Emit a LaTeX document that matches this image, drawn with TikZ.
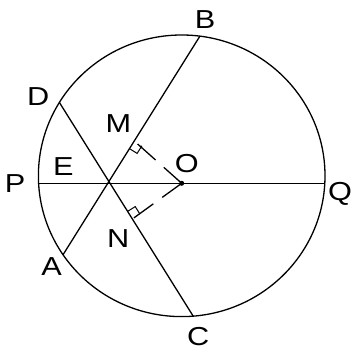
\documentclass[tikz,border=0pt]{standalone}
\usepackage{fontspec}
\setmainfont{Liberation Sans}[FakeStretch=1.18]
\usetikzlibrary{calc}
\begin{document}
\begin{tikzpicture}[x=1pt,y=-1pt,
  geo/.style={line width=1.3pt, black},
  marksq/.style={line width=1pt, black},
  hid/.style={line width=1.3pt, black, dash pattern=on 24pt off 11pt},
  lbl/.style={font=\fontsize{26}{26}\selectfont, inner sep=0pt, text depth=0pt}]
\useasboundingbox (0,0) rectangle (353,352);
\coordinate (Z) at (181.7,175.8);
\draw[geo] (Z) ellipse [x radius=143.3pt, y radius=140.8pt];
\coordinate (B) at ($(Z)+({143.3*cos(82.7)},{-140.8*sin(82.7)})$);
\coordinate (D) at ($(Z)+({143.3*cos(148.6)},{-140.8*sin(148.6)})$);
\coordinate (A) at ($(Z)+({143.3*cos(214.1)},{-140.8*sin(214.1)})$);
\coordinate (C) at ($(Z)+({143.3*cos(274.6)},{-140.8*sin(274.6)})$);
\coordinate (P) at (38.5,183.3);
\coordinate (Q) at (325,183.3);
\coordinate (O) at (181.7,183.3);
\coordinate (E) at (intersection of A--B and C--D);
\coordinate (M) at (intersection of A--B and 0,141--353,141);
\coordinate (N) at (intersection of C--D and 0,219--353,219);
\draw[geo] (P) -- (Q);
\draw[geo] (A) -- (B);
\draw[geo] (D) -- (C);
\draw[hid] (O) -- (M);
\draw[hid] (O) -- (N);
\fill (O) circle (2.5pt);
% right-angle marks
\coordinate (m1) at ($(M)!9pt!90:(A)$);
\coordinate (m2) at ($(M)!9pt!(A)$);
\coordinate (m3) at ($(m1)+(m2)-(M)$);
\draw[marksq] (m1) -- (m3) -- (m2);
\coordinate (n1) at ($(N)!9pt!-90:(D)$);
\coordinate (n2) at ($(N)!9pt!(D)$);
\coordinate (n3) at ($(n1)+(n2)-(N)$);
\draw[marksq] (n1) -- (n3) -- (n2);
% labels
\node[lbl] (lB) at (205,20) {B};
\node[lbl] (lD) at (38.3,96.7) {D};
\node[lbl] (lM) at (118.3,123.3) {M};
\node[lbl] (lE) at (63.3,166.7) {E};
\node[lbl] (lO) at (186.7,163.3) {O};
\node[lbl] (lP) at (15,183.3) {P};
\node[lbl] (lQ) at (340,191.7) {Q};
\node[lbl] (lN) at (118.3,238.3) {N};
\node[lbl] (lA) at (51.7,266.7) {A};
\node[lbl] (lC) at (198.3,336.7) {C};
\end{tikzpicture}
\end{document}
